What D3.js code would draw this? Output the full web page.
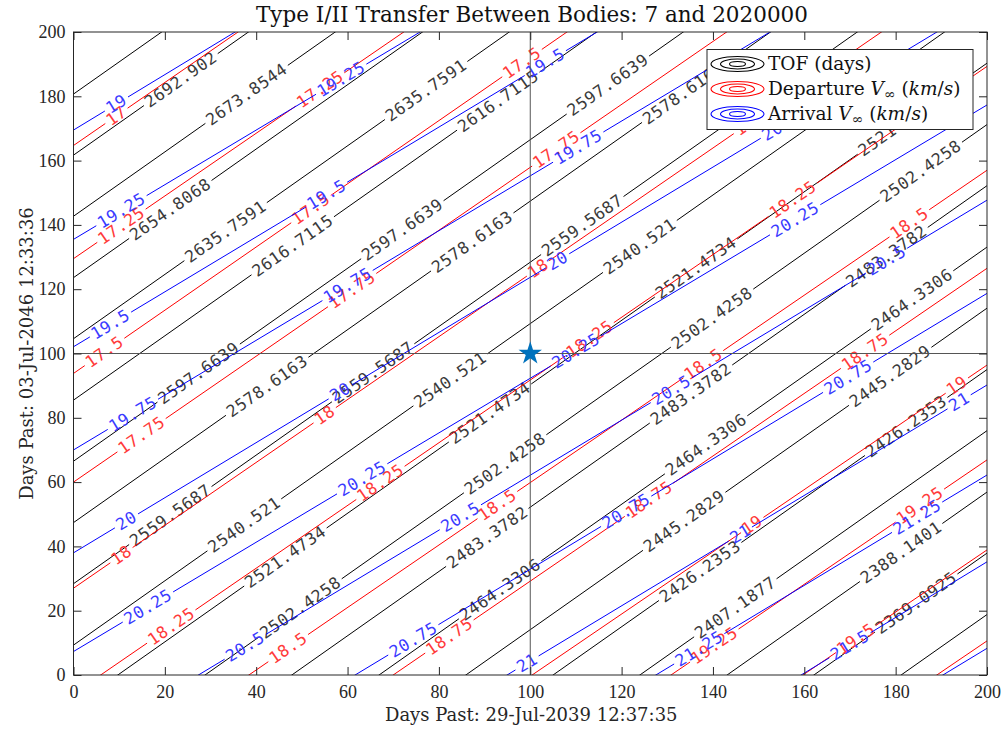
<!DOCTYPE html>
<html>
<head>
<meta charset="utf-8">
<script src="https://cdn.jsdelivr.net/npm/d3@7"></script>
<style>
  body { margin: 0; background: #fff; }
  #chart svg { display: block; }
</style>
</head>
<body>
<div id="chart"></div>
<script>
// TOF contour levels (days) and where each line sits at departure day 0 and 200.
const tofLevels = [2711.9497, 2692.902, 2673.8544, 2654.8068, 2635.7591, 2616.7115,
  2597.6639, 2578.6163, 2559.5687, 2540.521, 2521.4734, 2502.4258, 2483.3782,
  2464.3306, 2445.2829, 2426.2353, 2407.1877, 2388.1401, 2369.0925, 2350.0449];
const tofY0 = [180.7, 161.7, 142.7, 123.6, 104.6, 85.5, 66.5, 47.4, 28.4, 9.3,
  -9.7, -28.8, -47.8, -66.9, -85.9, -105.0, -124.0, -143.1, -162.1, -181.2];
const tofY200 = [380.7, 361.7, 342.7, 323.6, 304.6, 285.5, 266.5, 247.4, 228.4, 209.3,
  190.3, 171.2, 152.2, 133.1, 114.1, 95.0, 76.0, 56.9, 37.9, 18.8];

// Departure V-infinity contours (km/s).
const depLevels = [17, 17.25, 17.5, 17.75, 18, 18.25, 18.5, 18.75, 19, 19.25, 19.5, 19.75];
const depY0 = [164.7, 129.5, 93.8, 60.0, 27.0, -5.8, -37.3, -68.1, -97.2, -126.5, -154.2, -182.4];
const depY200 = [360.7, 324.5, 290.4, 255.8, 222.6, 189.3, 157.0, 126.5, 96.4, 66.9, 38.9, 10.6];

// Arrival V-infinity contours (km/s).
const arrLevels = [19, 19.25, 19.5, 19.75, 20, 20.25, 20.5, 20.75, 21, 21.25, 21.5, 21.75];
const arrY0 = [169.5, 135.5, 102.1, 70.0, 38.0, 7.3, -23.4, -52.9, -81.5, -109.4, -137.8, -163.7];
const arrY200 = [341.9, 305.5, 272.9, 240.5, 209.4, 177.3, 147.7, 118.7, 90.2, 62.2, 35.2, 8.3];

// Inline contour labels: [level, departure day of label centre, optional text]
const tofLabels = [
  [2692.902, 23.5], [2673.8544, 37.9], [2654.8068, 21.2],
  [2635.7591, 77.2], [2635.7591, 33.3],
  [2616.7115, 93], [2616.7115, 48],
  [2597.6639, 117], [2597.6639, 72], [2597.6639, 27.4],
  [2578.6163, 133.5], [2578.6163, 87.3], [2578.6163, 42.4],
  [2559.5687, 111.4], [2559.5687, 65.6], [2559.5687, 21.2],
  [2540.521, 124], [2540.521, 82.5], [2540.521, 37.4],
  [2521.4734, 176, "2521"], [2521.4734, 136.3], [2521.4734, 91.2], [2521.4734, 46.4],
  [2502.4258, 185.5], [2502.4258, 139.8], [2502.4258, 94.5], [2502.4258, 49.7],
  [2483.3782, 178], [2483.3782, 135.2], [2483.3782, 90.6],
  [2464.3306, 183.6], [2464.3306, 138.5], [2464.3306, 93.4],
  [2445.2829, 178.8], [2445.2829, 133.7],
  [2426.2353, 182.3], [2426.2353, 137.2],
  [2407.1877, 144.9], [2388.1401, 181.2], [2369.0925, 184.5]
];
const depLabels = [
  [17, 9.4], [17.25, 10.5], [17.25, 54],
  [17.5, 6.8], [17.5, 52], [17.5, 98.2],
  [17.75, 14.9], [17.75, 61], [17.75, 105.7],
  [18, 10.5], [18, 55], [18, 101.7], [18, 147],
  [18.25, 21.4], [18.25, 67.2], [18.25, 113], [18.25, 157.5],
  [18.5, 47], [18.5, 92.8], [18.5, 137.9], [18.5, 183],
  [18.75, 82.3], [18.75, 126], [18.75, 173.3],
  [19, 148.6], [19, 193.4], [19.25, 140.3], [19.25, 185.3], [19.5, 171.3]
];
const arrLabels = [
  [19, 9.4], [19.25, 10.5], [19.25, 58.6],
  [19.5, 8.1], [19.5, 55.4], [19.5, 103.3],
  [19.75, 13], [19.75, 60], [19.75, 110.5],
  [20, 11.6], [20, 58.4], [20, 106], [20, 153],
  [20.25, 16.3], [20.25, 63.2], [20.25, 110], [20.25, 158],
  [20.5, 37.6], [20.5, 84.7], [20.5, 130.9], [20.5, 178],
  [20.75, 74.4], [20.75, 121], [20.75, 169.6],
  [21, 99.3], [21, 146], [21, 193.9], [21.25, 137], [21.25, 184.7], [21.5, 170]
];

const ticks = [0, 20, 40, 60, 80, 100, 120, 140, 160, 180, 200];
const chosenPoint = [100, 100];

const titleText = "Type I/II Transfer Between Bodies: 7 and 2020000";
const xLabelText = "Days Past: 29-Jul-2039 12:37:35";
const yLabelText = "Days Past: 03-Jul-2046 12:33:36";

document.addEventListener("DOMContentLoaded", function () {
  const width = 1003,
    height = 731;
  const left = 73.5, right = 987, top = 32, bottom = 675;
  const serif = "'DejaVu Serif', serif";
  const axisColor = "#262626";

  const svg = d3
    .select("#chart")
    .append("svg")
    .attr("width", width)
    .attr("height", height);

  const x = d3.scaleLinear().domain([0, 200]).range([left, right]);
  const y = d3.scaleLinear().domain([0, 200]).range([bottom, top]);

  svg.append("clipPath").attr("id", "plotClip")
    .append("rect")
    .attr("x", left).attr("y", top)
    .attr("width", right - left).attr("height", bottom - top);

  const plot = svg.append("g").attr("clip-path", "url(#plotClip)");

  // Draw one family of straight contour lines with MATLAB-style inline labels.
  function drawFamily(levels, y0s, y200s, labels, color, labelColor) {
    const g = plot.append("g");
    levels.forEach((lv, i) => {
      const p0 = [x(0), y(y0s[i])], p1 = [x(200), y(y200s[i])];
      const dx = p1[0] - p0[0], dy = p1[1] - p0[1];
      const len = Math.hypot(dx, dy);
      const ang = (Math.atan2(dy, dx) * 180) / Math.PI;
      const gaps = [];

      labels.filter((l) => l[0] === lv).forEach((l) => {
        const t = ((x(l[1]) - p0[0]) / dx) * len;
        const px = p0[0] + (dx * t) / len, py = p0[1] + (dy * t) / len;
        const txt = g.append("text")
          .attr("transform", `translate(${px},${py}) rotate(${ang})`)
          .attr("text-anchor", "middle")
          .attr("dominant-baseline", "central")
          .attr("font-family", "'DejaVu Sans Mono', monospace")
          .attr("font-size", 16.5)
          .attr("letter-spacing", 0.6)
          .attr("fill", labelColor)
          .text(l[2] || String(lv));
        const half = txt.node().getComputedTextLength() / 2 + 3;
        gaps.push([t - half, t + half]);
      });

      gaps.sort((a, b) => a[0] - b[0]);
      let cur = 0;
      const segs = [];
      gaps.forEach(([a, b]) => {
        if (a > cur) segs.push([cur, a]);
        cur = Math.max(cur, b);
      });
      segs.push([cur, len]);

      segs.forEach(([a, b]) => {
        g.insert("line", "text")
          .attr("x1", p0[0] + (dx * a) / len).attr("y1", p0[1] + (dy * a) / len)
          .attr("x2", p0[0] + (dx * b) / len).attr("y2", p0[1] + (dy * b) / len)
          .attr("stroke", color)
          .attr("stroke-width", 1);
      });
    });
  }

  drawFamily(tofLevels, tofY0, tofY200, tofLabels, "#000000", "#3a3a3a");
  drawFamily(depLevels, depY0, depY200, depLabels, "#ff0000", "#ff3a3a");
  drawFamily(arrLevels, arrY0, arrY200, arrLabels, "#0000ff", "#3a3aff");

  // Crosshair through the chosen transfer.
  plot.append("line")
    .attr("x1", x(chosenPoint[0])).attr("x2", x(chosenPoint[0]))
    .attr("y1", top).attr("y2", bottom)
    .attr("stroke", "#555").attr("stroke-width", 1);
  plot.append("line")
    .attr("x1", left).attr("x2", right)
    .attr("y1", y(chosenPoint[1])).attr("y2", y(chosenPoint[1]))
    .attr("stroke", "#555").attr("stroke-width", 1);

  plot.append("path")
    .attr("d", d3.symbol(d3.symbolStar, 170)())
    .attr("transform", `translate(${x(chosenPoint[0])},${y(chosenPoint[1])})`)
    .attr("fill", "#0072BD");

  // Axes with inward ticks on all four sides.
  function styleAxis(g) {
    g.select(".domain").remove();
    g.selectAll(".tick line").attr("stroke", axisColor);
    g.selectAll(".tick text")
      .attr("font-family", "'Liberation Serif', serif")
      .attr("font-size", 18)
      .attr("fill", axisColor);
  }
  svg.append("g").attr("transform", `translate(0,${bottom})`)
    .call(d3.axisBottom(x).tickValues(ticks).tickSizeInner(-8).tickSizeOuter(0).tickPadding(10))
    .call(styleAxis);
  svg.append("g").attr("transform", `translate(${left},0)`)
    .call(d3.axisLeft(y).tickValues(ticks).tickSizeInner(-8).tickSizeOuter(0).tickPadding(8))
    .call(styleAxis);
  svg.append("g").attr("transform", `translate(0,${top})`)
    .call(d3.axisTop(x).tickValues(ticks).tickSizeInner(-8).tickSizeOuter(0).tickFormat(""))
    .call(styleAxis);
  svg.append("g").attr("transform", `translate(${right},0)`)
    .call(d3.axisRight(y).tickValues(ticks).tickSizeInner(-8).tickSizeOuter(0).tickFormat(""))
    .call(styleAxis);

  svg.append("rect")
    .attr("x", left).attr("y", top)
    .attr("width", right - left).attr("height", bottom - top)
    .attr("fill", "none").attr("stroke", axisColor).attr("stroke-width", 1);

  svg.append("text")
    .attr("x", 532).attr("y", 22)
    .attr("text-anchor", "middle")
    .attr("font-family", serif).attr("font-size", 21.5)
    .attr("fill", "#111")
    .text(titleText);

  svg.append("text")
    .attr("x", (left + right) / 2 + 1).attr("y", 721)
    .attr("text-anchor", "middle")
    .attr("font-family", serif).attr("font-size", 18)
    .attr("fill", axisColor)
    .text(xLabelText);

  svg.append("text")
    .attr("transform", `translate(33,${(top + bottom) / 2}) rotate(-90)`)
    .attr("text-anchor", "middle")
    .attr("font-family", serif).attr("font-size", 18)
    .attr("fill", axisColor)
    .text(yLabelText);

  // Legend
  const legendItems = [
    { color: "#000000", parts: [["TOF (days)", "normal"]] },
    { color: "#ff0000", parts: [["Departure ", "normal"], ["V", "italic"], ["∞", "sub"], [" (", "normal"], ["km", "italic"], ["/", "normal"], ["s", "italic"], [")", "normal"]] },
    { color: "#0000ff", parts: [["Arrival ", "normal"], ["V", "italic"], ["∞", "sub"], [" (", "normal"], ["km", "italic"], ["/", "normal"], ["s", "italic"], [")", "normal"]] }
  ];
  const legend = svg.append("g");
  legend.append("rect")
    .attr("x", 707).attr("y", 49.5).attr("width", 266).attr("height", 80)
    .attr("fill", "#fff").attr("stroke", axisColor).attr("stroke-width", 1);

  legendItems.forEach((item, i) => {
    const cy = 64 + i * 25;
    [[26.5, 7.5], [17, 5], [8, 2.5]].forEach(([rx, ry]) => {
      legend.append("ellipse")
        .attr("cx", 737.5).attr("cy", cy).attr("rx", rx).attr("ry", ry)
        .attr("fill", "none").attr("stroke", item.color).attr("stroke-width", 1.1);
    });
    const t = legend.append("text")
      .attr("x", 768).attr("y", cy + 5.5)
      .attr("font-family", serif).attr("font-size", 18.5)
      .attr("fill", "#111");
    let shifted = false;
    item.parts.forEach(([s, kind]) => {
      const sp = t.append("tspan").text(s);
      if (kind === "italic") sp.attr("font-style", "italic");
      if (kind === "sub") {
        sp.attr("font-size", 14).attr("dy", 4);
        shifted = true;
      } else if (shifted) {
        sp.attr("dy", -4);
        shifted = false;
      }
    });
  });
});
</script>
</body>
</html>
